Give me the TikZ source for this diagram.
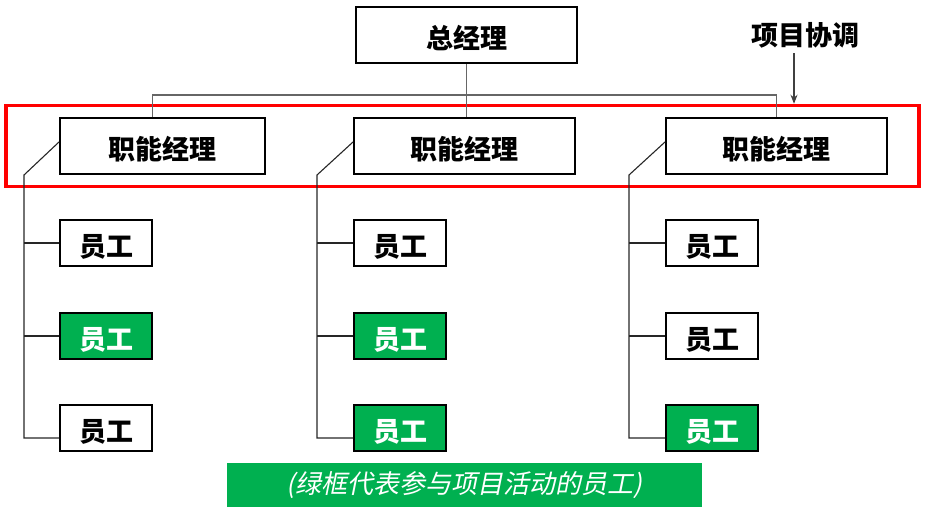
\documentclass[tikz,border=0pt]{standalone}
\usepackage{fontspec}
\newfontfamily\cjk[AutoFakeSlant=0.2]{Noto Sans CJK SC}
\usetikzlibrary{shapes.geometric, arrows,arrows.meta}
\usetikzlibrary{calc}
\definecolor{projgreen}{HTML}{00B050}
\tikzstyle{box} = [rectangle, draw=black, line width=2pt, text centered, fill=white, text height=28pt, text depth=2pt, font=\cjk\bfseries\fontsize{27}{30}\selectfont]
\tikzstyle{manager} = [box, minimum width=221pt, minimum height=56pt]
\tikzstyle{staff} = [box, minimum width=92pt, minimum height=46pt]
\tikzstyle{joined} = [staff, fill=projgreen, text=white]
\tikzstyle{link} = [line width=1.1pt, color=black!85]
\tikzstyle{bus} = [line width=1.3pt, color=black!60]
\tikzstyle{arrow} = [line width=1.1pt, -{Stealth[length=9pt,width=7pt]}, color=black!75]
\tikzstyle{focusbox} = [rectangle, draw=red, line width=3.5pt, minimum width=913pt, minimum height=81pt]

\begin{document}
\begin{tikzpicture}[x=1pt, y=-1pt, node distance=93pt]
    \useasboundingbox (0,0) rectangle (928,509);

    % red frame behind the managers
    \node (focus) [focusbox] at (462.5,146) {};

    % nodes
    \node (gm) [box, minimum width=221pt, minimum height=56pt] at (466.5,35) { 总经理 };
    \node (xmtx) [font=\cjk\bfseries\fontsize{27}{30}\selectfont] at (805,35) { 项目协调 };

    \node (fm2) [manager, below of=gm, node distance=111pt, xshift=-2pt] { 职能经理 };
    \node (fm1) [manager, left of=fm2, node distance=302pt, minimum width=205pt] { 职能经理 };
    \node (fm3) [manager, right of=fm2, node distance=312pt] { 职能经理 };

    % branch left
    \node (e11) [staff, anchor=west] at ([yshift=-97pt]fm1.west) { 员工 };
    \node (e12) [joined, below of=e11] { 员工 };
    \node (e13) [staff, below of=e12, node distance=92pt] { 员工 };

    % branch middle
    \node (e21) [staff, anchor=west] at ([yshift=-97pt]fm2.west) { 员工 };
    \node (e22) [joined, below of=e21] { 员工 };
    \node (e23) [joined, below of=e22, node distance=92pt] { 员工 };

    % branch right
    \node (e31) [staff, anchor=west] at ([yshift=-97pt]fm3.west) { 员工 };
    \node (e32) [staff, below of=e31] { 员工 };
    \node (e33) [joined, below of=e32, node distance=92pt] { 员工 };

    % bottom
    \node (legend) [rectangle, fill=projgreen, minimum width=475pt, minimum height=44pt, text=white, font=\cjk\itshape\fontsize{26}{29}\selectfont] at (464.5,485) { (绿框代表参与项目活动的员工) };

    % arrows
    \draw [bus] (gm.south) -- (gm.south |- fm2.north);
    \draw [bus] ([xshift=-10pt]fm1.north) -- ++(0,22pt) -| (fm3.north);
    \draw [arrow] ([xshift=-11pt,yshift=-2pt]xmtx.south) -- ([xshift=-11pt]xmtx.south |- focus.north);

    % branch left
    \coordinate (b13) at ([yshift=-10pt]e13.west);
    \draw [link] ([yshift=4pt]fm1.west) -- ++(-35pt,-33pt) coordinate (sp1) |- (b13);
    \draw [link] (sp1 |- e11.west) -- (e11.west);
    \draw [link] (sp1 |- e12.west) -- (e12.west);

    % branch middle
    \coordinate (b23) at ([yshift=-10pt]e23.west);
    \draw [link] ([yshift=4pt]fm2.west) -- ++(-36pt,-33pt) coordinate (sp2) |- (b23);
    \draw [link] (sp2 |- e21.west) -- (e21.west);
    \draw [link] (sp2 |- e22.west) -- (e22.west);

    % branch right
    \coordinate (b33) at ([yshift=-10pt]e33.west);
    \draw [link] ([yshift=4pt]fm3.west) -- ++(-36pt,-33pt) coordinate (sp3) |- (b33);
    \draw [link] (sp3 |- e31.west) -- (e31.west);
    \draw [link] (sp3 |- e32.west) -- (e32.west);
\end{tikzpicture}
\end{document}
